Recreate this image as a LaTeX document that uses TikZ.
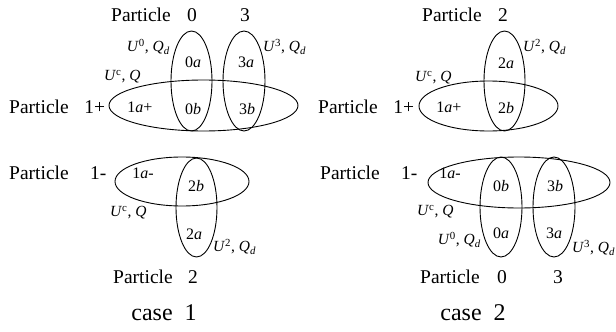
\documentclass[tikz,border=0pt]{standalone}
\usepackage{fontspec}
\setmainfont{Liberation Serif}
\usetikzlibrary{shapes.geometric}
\newcommand{\lbl}[2]{\textit{U}\textsuperscript{#1}, \textit{Q}#2}
\tikzset{
  ell/.style={draw, ellipse, line width=0.9pt, inner sep=0pt},
  big/.style={inner sep=0pt, font=\fontsize{19.5}{22}\selectfont},
  inner/.style={inner sep=0pt, font=\fontsize{16}{18}\selectfont},
  lab/.style={inner sep=0pt, font=\fontsize{15.5}{18}\selectfont},
  casetext/.style={inner sep=0pt, font=\fontsize{24}{28}\selectfont}
}
\begin{document}
\begin{tikzpicture}[x=1pt,y=-1pt]
\useasboundingbox (0,0) rectangle (616,332);
% ---------- case 1 top ----------
\node[ell, minimum width=189pt, minimum height=51pt] (h1) at (203.5,105.5) {};
\node[ell, minimum width=41pt, minimum height=100pt] (v10) at (191.5,81) {};
\node[ell, minimum width=42pt, minimum height=100pt] (v13) at (244,81) {};
\node[big, anchor=west] (p1t) at (111,15) {Particle};
\node[big] (p1t0) at (192,15) {0};
\node[big] (p1t3) at (245,15) {3};
\node[lab, anchor=east] (l10) at (170,47) {\lbl{0}{\textsubscript{\textit{d}}}};
\node[lab, anchor=west] (l13) at (263,47) {\lbl{3}{\textsubscript{\textit{d}}}};
\node[lab, anchor=west] (l1c) at (104,77) {\lbl{c}{}};
\node[big, anchor=west] (p1p) at (9,107) {Particle\hspace{0.8em}1+};
\node[inner] (a0) at (193,62) {0\textit{a}};
\node[inner] (a3) at (246,62) {3\textit{a}};
\node[inner] (a1) at (140,107) {1\textit{a}+};
\node[inner] (b0) at (193,109) {0\textit{b}};
\node[inner] (b3) at (247,109) {3\textit{b}};
% ---------- case 1 bottom ----------
\node[ell, minimum width=134pt, minimum height=49pt] (h2) at (182,181.5) {};
\node[ell, minimum width=41pt, minimum height=99pt] (v22) at (196.5,207.5) {};
\node[big, anchor=west] (p1m) at (9,173) {Particle\hspace{1.1em}1-};
\node[inner] (am) at (143,173) {1\textit{a}-};
\node[inner] (b2) at (196,186) {2\textit{b}};
\node[inner] (a2) at (194,234) {2\textit{a}};
\node[lab, anchor=west] (l2c) at (110,213) {\lbl{c}{}};
\node[lab, anchor=west] (l22) at (213,247) {\lbl{2}{\textsubscript{\textit{d}}}};
\node[big, anchor=west] (p2b) at (113,277) {Particle};
\node[big] (p2b2) at (193,277) {2};
\node[casetext] (c1) at (164,313) {case\hspace{0.5em}1};
% ---------- case 2 top ----------
\node[ell, minimum width=139pt, minimum height=50pt] (h3) at (488.5,106) {};
\node[ell, minimum width=41pt, minimum height=100pt] (v32) at (504.5,81) {};
\node[big, anchor=west] (p3t) at (422,15) {Particle};
\node[big] (p3t2) at (503,15) {2};
\node[lab, anchor=west] (l32) at (523,47) {\lbl{2}{\textsubscript{\textit{d}}}};
\node[lab, anchor=west] (l3c) at (415,78) {\lbl{c}{}};
\node[big, anchor=west] (p3p) at (318,107) {Particle\hspace{0.8em}1+};
\node[inner] (a32) at (506,63) {2\textit{a}};
\node[inner] (b32) at (506,108) {2\textit{b}};
\node[inner] (a31) at (449,107) {1\textit{a}+};
% ---------- case 2 bottom ----------
\node[ell, minimum width=182pt, minimum height=51pt] (h4) at (519,182.5) {};
\node[ell, minimum width=42pt, minimum height=100pt] (v40) at (501,207) {};
\node[ell, minimum width=42pt, minimum height=100pt] (v43) at (554,207) {};
\node[big, anchor=west] (p4m) at (320,173) {Particle\hspace{1.1em}1-};
\node[inner] (a4m) at (450,173) {1\textit{a}-};
\node[inner] (b40) at (501,186) {0\textit{b}};
\node[inner] (b43) at (555,186) {3\textit{b}};
\node[inner] (a40) at (501,233) {0\textit{a}};
\node[inner] (a43) at (554,233) {3\textit{a}};
\node[lab, anchor=west] (l4c) at (417,212) {\lbl{c}{}};
\node[lab, anchor=east] (l40) at (481,240) {\lbl{0}{\textsubscript{\textit{d}}}};
\node[lab, anchor=west] (l43) at (572,248) {\lbl{3}{\textsubscript{\textit{d}}}};
\node[big, anchor=west] (p4b) at (420,277) {Particle};
\node[big] (p4b0) at (502,277) {0};
\node[big] (p4b3) at (558,277) {3};
\node[casetext] (c2) at (473,313) {case\hspace{0.5em}2};
\end{tikzpicture}
\end{document}
